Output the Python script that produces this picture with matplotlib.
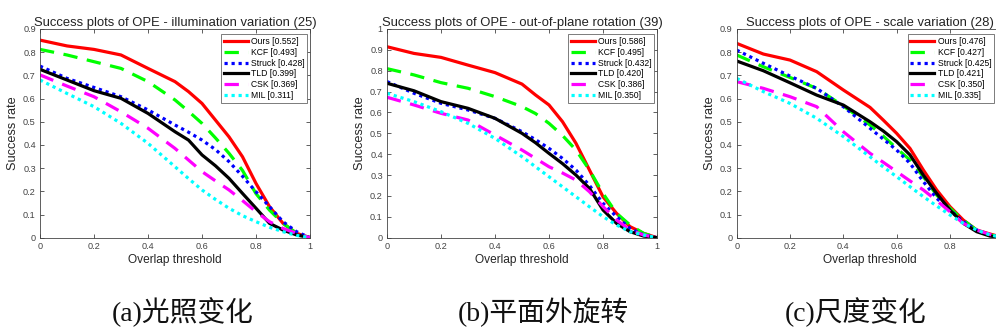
import matplotlib
matplotlib.use("Agg")
import matplotlib.pyplot as plt

thresholds = [0, .1, .2, .3, .4, .5, .55, .6, .65, .7, .75, .8, .85, .9, .95, 1.0]
trackers = ["Ours", "KCF", "Struck", "TLD", "CSK", "MIL"]

titles = ["Success plots of OPE - illumination variation (25)",
          "Success plots of OPE - out-of-plane rotation (39)",
          "Success plots of OPE - scale variation (28)"]
captions = ["(a)光照变化", "(b)平面外旋转", "(c)尺度变化"]
ylims = [0.9, 1.0, 0.9]

auc_a = [0.552, 0.493, 0.428, 0.399, 0.369, 0.311]
auc_b = [0.586, 0.495, 0.432, 0.420, 0.386, 0.350]
auc_c = [0.476, 0.427, 0.425, 0.421, 0.350, 0.335]

# (a) illumination variation
ours_a   = [0.852, 0.827, 0.812, 0.788, 0.730, 0.673, 0.630, 0.579, 0.507, 0.435, 0.349, 0.234, 0.134, 0.062, 0.019, 0.0]
kcf_a    = [0.812, 0.788, 0.759, 0.730, 0.673, 0.594, 0.545, 0.493, 0.430, 0.364, 0.290, 0.190, 0.119, 0.062, 0.019, 0.0]
struck_a = [0.740, 0.687, 0.648, 0.608, 0.551, 0.486, 0.455, 0.421, 0.380, 0.328, 0.265, 0.198, 0.134, 0.069, 0.026, 0.0]
tld_a    = [0.726, 0.680, 0.634, 0.601, 0.536, 0.457, 0.421, 0.357, 0.310, 0.256, 0.191, 0.127, 0.062, 0.033, 0.012, 0.0]
csk_a    = [0.702, 0.654, 0.608, 0.543, 0.472, 0.385, 0.335, 0.285, 0.245, 0.206, 0.160, 0.112, 0.069, 0.040, 0.019, 0.0]
mil_a    = [0.680, 0.622, 0.565, 0.493, 0.407, 0.306, 0.255, 0.206, 0.165, 0.127, 0.095, 0.069, 0.045, 0.026, 0.010, 0.0]

# (b) out-of-plane rotation
ours_b   = [0.915, 0.883, 0.864, 0.827, 0.791, 0.736, 0.684, 0.636, 0.556, 0.452, 0.324, 0.196, 0.117, 0.053, 0.021, 0.0]
kcf_b    = [0.810, 0.780, 0.743, 0.716, 0.676, 0.628, 0.595, 0.548, 0.490, 0.420, 0.324, 0.212, 0.117, 0.061, 0.021, 0.0]
struck_b = [0.748, 0.692, 0.644, 0.612, 0.572, 0.508, 0.470, 0.428, 0.380, 0.324, 0.250, 0.165, 0.101, 0.045, 0.013, 0.0]
tld_b    = [0.740, 0.704, 0.652, 0.620, 0.572, 0.500, 0.455, 0.404, 0.355, 0.300, 0.236, 0.133, 0.069, 0.029, 0.008, 0.0]
csk_b    = [0.673, 0.636, 0.596, 0.564, 0.492, 0.420, 0.380, 0.340, 0.310, 0.276, 0.220, 0.149, 0.085, 0.037, 0.013, 0.0]
mil_b    = [0.692, 0.652, 0.604, 0.548, 0.476, 0.388, 0.340, 0.292, 0.244, 0.196, 0.148, 0.101, 0.061, 0.029, 0.013, 0.0]

# (c) scale variation
ours_c   = [0.838, 0.792, 0.766, 0.716, 0.637, 0.562, 0.507, 0.450, 0.385, 0.292, 0.206, 0.134, 0.076, 0.033, 0.016, 0.0]
kcf_c    = [0.788, 0.737, 0.691, 0.644, 0.568, 0.486, 0.438, 0.385, 0.335, 0.263, 0.184, 0.127, 0.076, 0.033, 0.012, 0.0]
struck_c = [0.809, 0.752, 0.697, 0.644, 0.565, 0.472, 0.425, 0.378, 0.321, 0.242, 0.170, 0.119, 0.069, 0.033, 0.012, 0.0]
tld_c    = [0.762, 0.720, 0.668, 0.615, 0.572, 0.500, 0.460, 0.414, 0.357, 0.270, 0.191, 0.119, 0.062, 0.026, 0.007, 0.0]
csk_c    = [0.673, 0.644, 0.608, 0.565, 0.457, 0.364, 0.325, 0.285, 0.245, 0.206, 0.160, 0.112, 0.062, 0.033, 0.014, 0.0]
mil_c    = [0.687, 0.630, 0.579, 0.515, 0.436, 0.349, 0.305, 0.263, 0.220, 0.177, 0.137, 0.098, 0.062, 0.033, 0.012, 0.0]

panels = [
    ([ours_a, kcf_a, struck_a, tld_a, csk_a, mil_a], auc_a),
    ([ours_b, kcf_b, struck_b, tld_b, csk_b, mil_b], auc_b),
    ([ours_c, kcf_c, struck_c, tld_c, csk_c, mil_c], auc_c),
]

colors = ["#ff0000", "#00ff00", "#0000ff", "#000000", "#ff00ff", "#00ffff"]
styles = ["-", (0, (4.5, 3)), (0, (1, 1.2)), "-", (0, (4.5, 3)), (0, (1, 1.2))]

W, H = 996, 334
fig = plt.figure(figsize=(W / 100, H / 100), dpi=100)
plt.rcParams['font.family'] = ['Liberation Sans', 'DejaVu Sans']

lefts = [40, 387, 736.7]
widths = [270, 270, 266.6]
bottom_px, top_px = 237.7, 29
cap_x = [183, 543, 856]
leg_x = [0.99, 0.99, 0.965]
gray = "#262626"

for i, (series, aucs) in enumerate(panels):
    ax = fig.add_axes([lefts[i] / W, 1 - bottom_px / H, widths[i] / W, (bottom_px - top_px) / H])
    for s, name, a, c, ls in zip(series, trackers, aucs, colors, styles):
        ax.plot(thresholds, s, color=c, linestyle=ls, linewidth=2.3,
                label=f"{name} [{a:.3f}]")
    ax.set_xlim(0, 1)
    ax.set_ylim(0, ylims[i])
    ax.set_xticks([0, 0.2, 0.4, 0.6, 0.8, 1])
    xl = ["0", "0.2", "0.4", "0.6", "0.8", "1"]
    if i == 2:
        xl[-1] = ""  # falls outside the visible figure in the reference
    ax.set_xticklabels(xl)
    yt = [round(0.1 * k, 1) for k in range(int(round(ylims[i] * 10)) + 1)]
    ax.set_yticks(yt)
    ax.set_yticklabels(["0" if v == 0 else ("1" if v == 1 else f"{v:.1f}") for v in yt])
    ax.tick_params(direction="in", length=3, width=0.6, top=True, right=True,
                   labelsize=6.6, colors="#444444", pad=3)
    for sp in ax.spines.values():
        sp.set_color("#444444")
        sp.set_linewidth(0.6)
    ax.set_title(titles[i], fontsize=9.4, color="#222222", pad=2.5)
    ax.set_xlabel("Overlap threshold", fontsize=8.6, color=gray, labelpad=2)
    ax.set_ylabel("Success rate", fontsize=9.2, color=gray, labelpad=3)
    leg = ax.legend(loc="upper right", bbox_to_anchor=(leg_x[i], 0.975), borderaxespad=0,
                    fontsize=6.2, labelspacing=0.22, handlelength=2.8, handletextpad=0.4,
                    borderpad=0.3, fancybox=False, framealpha=1, edgecolor="#666666")
    leg.get_frame().set_linewidth(0.6)
    fig.text(cap_x[i] / W, 1 - 312 / H, captions[i], ha="center", va="center",
             fontsize=20, family=["Liberation Serif", "Noto Sans CJK SC"], color="#111111")

fig.savefig("out.png", dpi=100)
